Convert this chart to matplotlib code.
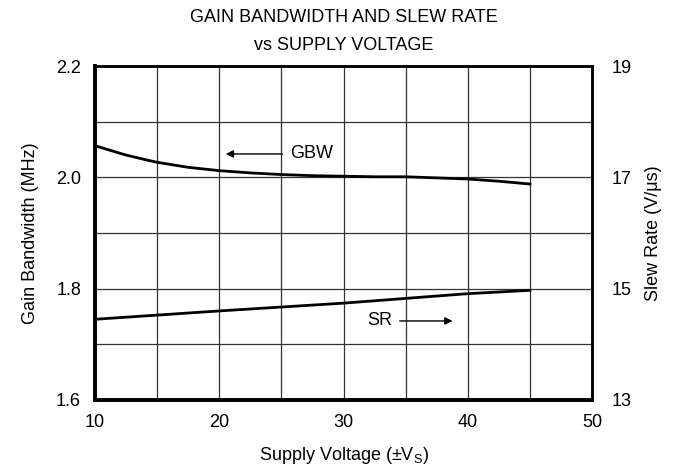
import matplotlib
matplotlib.use("Agg")
import matplotlib.pyplot as plt
import numpy as np

plt.rcParams['font.family'] = ['Liberation Sans', 'DejaVu Sans']

gbw_v = [10, 11, 12.5, 14, 15, 17.5, 20, 22.5, 25, 27.5, 30, 32.5, 35, 37.5, 40, 42.5, 45]
gbw = [2.057, 2.050, 2.040, 2.032, 2.027, 2.018, 2.012, 2.008, 2.005, 2.003, 2.002, 2.001,
       2.001, 1.999, 1.997, 1.993, 1.988]
sr_v = [10, 20, 30, 40, 45]
sr = [14.45, 14.60, 14.74, 14.91, 14.97]

xticks = [10, 20, 30, 40, 50]
yticks_left = [1.6, 1.8, 2.0, 2.2]
yticks_right = [13, 15, 17, 19]

FS = 13
fig = plt.figure(figsize=(6.82, 4.68), dpi=100)
ax = fig.add_axes([95/682, 68/468, 497/682, 334/468])
ax.set_xlim(10, 50)
ax.set_ylim(1.6, 2.2)
ax.set_xticks(xticks)
ax.set_xticks(np.arange(10, 51, 5), minor=True)
ax.set_yticks(yticks_left)
ax.set_yticks(np.arange(1.6, 2.21, 0.1), minor=True)
ax.set_yticklabels(['1.6', '1.8', '2.0', '2.2'])
ax.grid(True, which='both', color='#333333', lw=0.9)
ax.tick_params(which='both', length=0, labelsize=FS, pad=10)
for s in ax.spines.values():
    s.set_zorder(5)
ax.spines['left'].set_linewidth(2.6)
ax.spines['bottom'].set_linewidth(2.6)
ax.spines['top'].set_linewidth(1.8)
ax.spines['right'].set_linewidth(1.8)

ax.plot(gbw_v, gbw, color='black', lw=2, zorder=4)

ax2 = ax.twinx()
ax2.set_ylim(13, 19)
ax2.set_yticks(yticks_right)
ax2.tick_params(length=0, labelsize=FS, pad=14)
ax2.spines['left'].set_linewidth(2.6)
ax2.spines['bottom'].set_linewidth(2.6)
ax2.spines['top'].set_linewidth(1.8)
ax2.spines['right'].set_linewidth(1.8)
ax2.plot(sr_v, sr, color='black', lw=2, zorder=4)

ax.set_xlabel('Supply Voltage (±V$_\\mathregular{S}$)', fontsize=FS, labelpad=10)
ax.set_ylabel('Gain Bandwidth (MHz)', fontsize=FS, labelpad=12)
ax2.set_ylabel('Slew Rate (V/μs)', fontsize=FS, labelpad=10)

ax.annotate('', xy=(20.3, 2.042), xytext=(25.3, 2.042),
            arrowprops=dict(arrowstyle='-|>', color='black', lw=1, mutation_scale=11))
ax.text(25.7, 2.042, 'GBW', fontsize=FS, va='center', ha='left')
ax.annotate('', xy=(39.0, 1.742), xytext=(34.3, 1.742),
            arrowprops=dict(arrowstyle='-|>', color='black', lw=1, mutation_scale=11))
ax.text(33.9, 1.742, 'SR', fontsize=FS, va='center', ha='right')

fig.text(344/682, 1 - 18/468, 'GAIN BANDWIDTH AND SLEW RATE', ha='center', va='center', fontsize=FS)
fig.text(344/682, 1 - 45/468, 'vs SUPPLY VOLTAGE', ha='center', va='center', fontsize=FS)

fig.savefig('out.png', dpi=100)
